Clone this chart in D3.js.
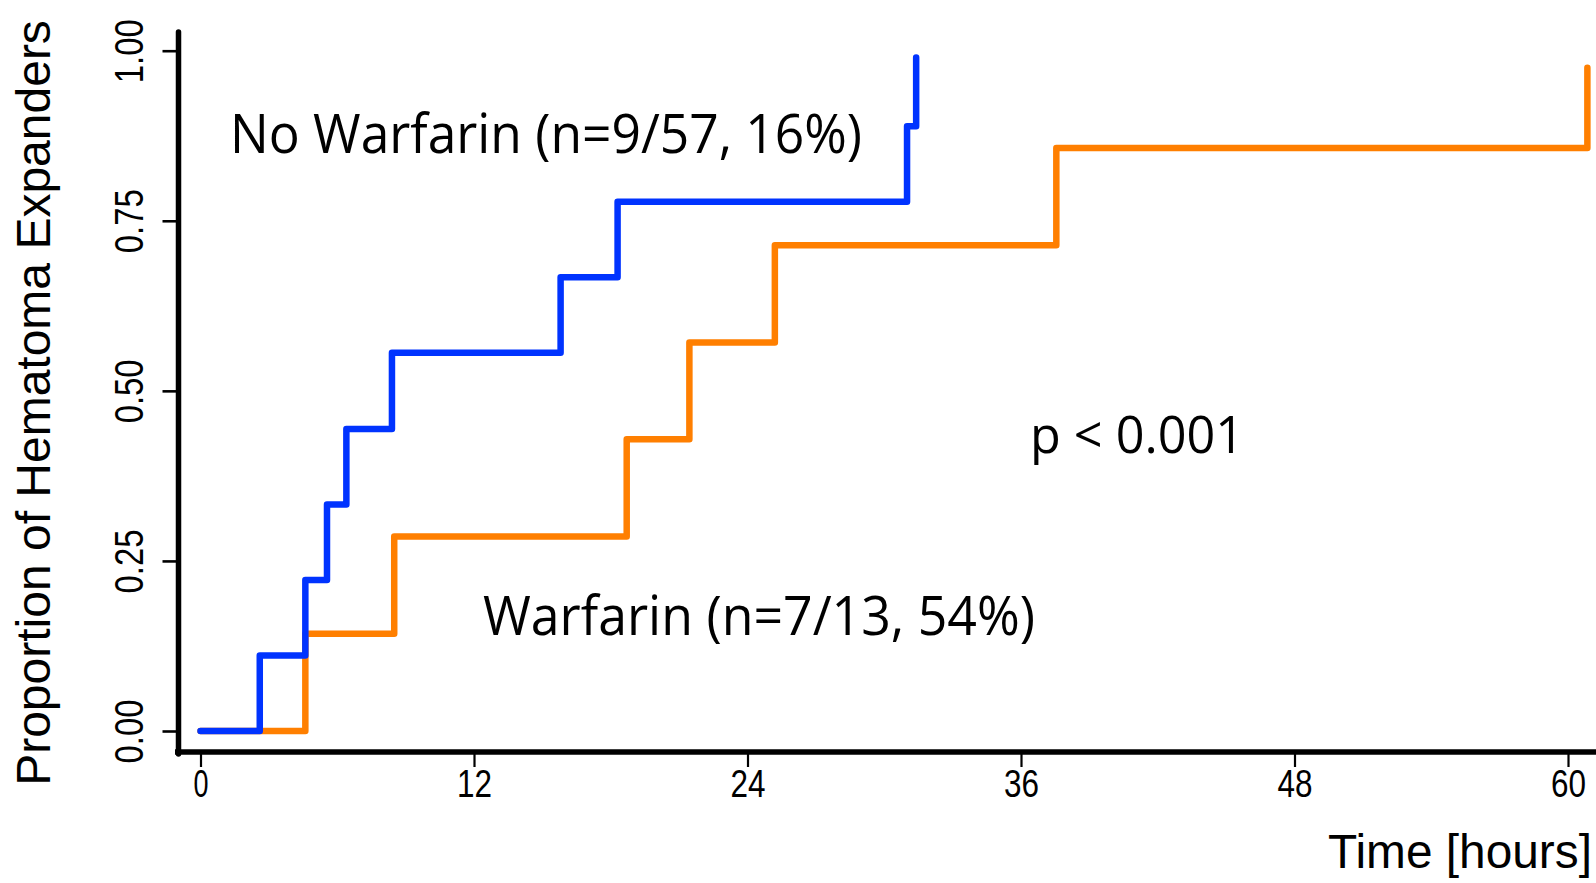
<!DOCTYPE html>
<html>
<head>
<meta charset="utf-8">
<script src="https://d3js.org/d3.v7.min.js"></script>
<style>
  html, body { margin: 0; padding: 0; background: #fff; overflow: hidden; }
  svg { display: block; }
</style>
</head>
<body>
<svg id="chart" width="1596" height="883"></svg>
<script>
// step times (hours) and cumulative proportion of expanders
var noWarfarinTimes = [0, 2.6, 4.6, 5.55, 6.4, 8.4, 15.8, 18.3, 31.0, 31.4];
var noWarfarinProps = [0, 0.111, 0.222, 0.333, 0.444, 0.556, 0.667, 0.778, 0.889, 0.99];
var warfarinTimes = [0, 4.6, 8.5, 18.7, 21.45, 25.2, 37.55, 60.85];
var warfarinProps = [0, 0.143, 0.286, 0.429, 0.571, 0.714, 0.857, 0.975];

var xTicks = [0, 12, 24, 36, 48, 60];
var yTicks = [0, 0.25, 0.5, 0.75, 1];
var yTickLabels = ["0.00", "0.25", "0.50", "0.75", "1.00"];

var svg = d3.select("#chart");

var x = d3.scaleLinear().domain([0, 60]).range([200.5, 1568]);
var y = d3.scaleLinear().domain([0, 1]).range([731, 50.7]);

var axisX = 178.5, axisY = 752;

// x ticks + labels
var gx = svg.append("g")
    .attr("transform", "translate(0," + axisY + ")")
    .call(d3.axisBottom(x).tickValues(xTicks).tickSize(15).tickFormat(d3.format("d")));
gx.select(".domain").remove();
gx.selectAll(".tick line").attr("stroke", "#000").attr("stroke-width", 2.2);
gx.selectAll(".tick text")
    .attr("y", 45).attr("dy", 0)
    .attr("fill", "#000")
    .style("font-family", "'Liberation Sans', Arial, sans-serif")
    .style("font-size", "39px")
    .attr("textLength", function(d) { return String(d).length > 1 ? 35 : 15; })
    .attr("lengthAdjust", "spacingAndGlyphs");

// y ticks + rotated labels
var gy = svg.append("g")
    .attr("transform", "translate(" + axisX + ",0)")
    .call(d3.axisLeft(y).tickValues(yTicks).tickSize(16).tickFormat(function(d, i) { return yTickLabels[i]; }));
gy.select(".domain").remove();
gy.selectAll(".tick line").attr("stroke", "#000").attr("stroke-width", 2.6);
gy.selectAll(".tick text")
    .attr("x", 0).attr("y", -35.5).attr("dy", 0)
    .attr("transform", "rotate(-90)")
    .attr("text-anchor", "middle")
    .attr("fill", "#000")
    .style("font-family", "'Liberation Sans', Arial, sans-serif")
    .style("font-size", "41px")
    .attr("textLength", 64)
    .attr("lengthAdjust", "spacingAndGlyphs");

// thick axis lines
svg.append("line")
    .attr("x1", axisX).attr("x2", axisX)
    .attr("y1", 32).attr("y2", axisY + 2)
    .attr("stroke", "#000").attr("stroke-width", 5.5).attr("stroke-linecap", "round");
svg.append("line")
    .attr("x1", 175).attr("x2", 1596)
    .attr("y1", axisY).attr("y2", axisY)
    .attr("stroke", "#000").attr("stroke-width", 5.5);

// step curves
var line = d3.line()
    .x(function(d) { return x(d[0]); })
    .y(function(d) { return y(d[1]); })
    .curve(d3.curveStepAfter);

var series = [
  { times: warfarinTimes, props: warfarinProps, color: "#ff7f00" },
  { times: noWarfarinTimes, props: noWarfarinProps, color: "#0033ff" }
];

svg.selectAll("path.km")
  .data(series)
  .enter().append("path")
    .attr("class", "km")
    .attr("d", function(s) { return line(d3.zip(s.times, s.props)); })
    .attr("fill", "none")
    .attr("stroke", function(s) { return s.color; })
    .attr("stroke-width", 6.5)
    .attr("stroke-linejoin", "round")
    .attr("stroke-linecap", "round");

// annotations
var annoFont = "'Open Sans', 'Noto Sans', sans-serif";
svg.append("text")
    .attr("x", 230).attr("y", 152.7)
    .style("font-family", annoFont).style("font-size", "55px")
    .attr("textLength", 632).attr("lengthAdjust", "spacingAndGlyphs")
    .text("No Warfarin (n=9/57, 16%)");
svg.append("text")
    .attr("x", 483).attr("y", 635)
    .style("font-family", annoFont).style("font-size", "55px")
    .attr("textLength", 552).attr("lengthAdjust", "spacingAndGlyphs")
    .text("Warfarin (n=7/13, 54%)");
svg.append("text")
    .attr("x", 1030).attr("y", 453)
    .style("font-family", annoFont).style("font-size", "52px")
    .attr("textLength", 214).attr("lengthAdjust", "spacingAndGlyphs")
    .text("p < 0.001");

// axis titles
svg.append("text")
    .attr("transform", "translate(50,403) rotate(-90)")
    .attr("text-anchor", "middle")
    .style("font-family", "'Liberation Sans', Arial, sans-serif")
    .style("font-size", "48px")
    .text("Proportion of Hematoma Expanders");
svg.append("text")
    .attr("x", 1328).attr("y", 868)
    .style("font-family", "'Liberation Sans', Arial, sans-serif")
    .style("font-size", "48px")
    .attr("textLength", 264).attr("lengthAdjust", "spacingAndGlyphs")
    .text("Time [hours]");
</script>
</body>
</html>
